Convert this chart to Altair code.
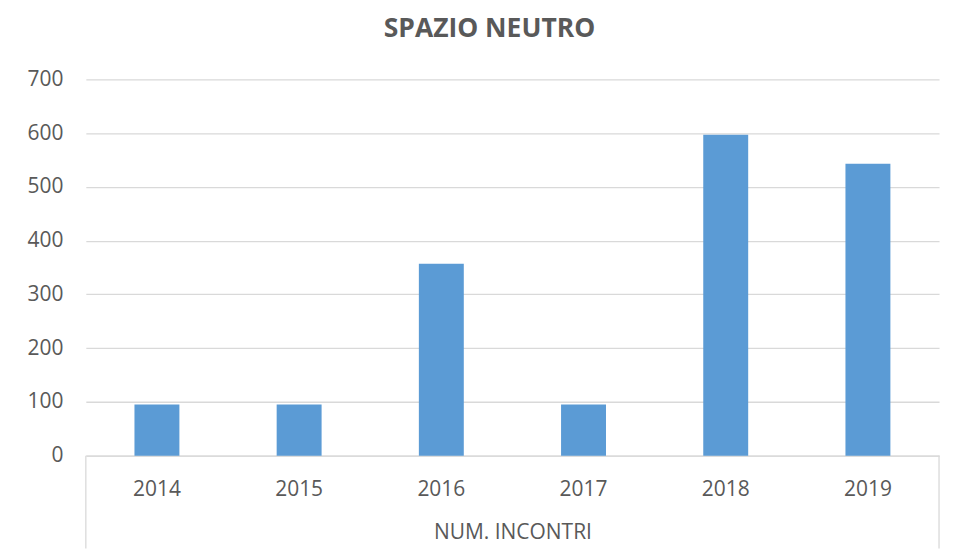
import altair as alt
import pandas as pd

years = ["2014", "2015", "2016", "2017", "2018", "2019"]
incontri = [95, 95, 357, 95, 597, 543]
y_ticks = [0, 100, 200, 300, 400, 500, 600, 700]

df = pd.DataFrame({"anno": years, "valore": incontri})

W, H = 855, 377
GRAY = "#d9d9d9"
TXT = "#595959"
FONT = "Open Sans"

bars = alt.Chart(df).mark_bar(color="#5b9bd5").encode(
    x=alt.X(
        "anno:N",
        sort=years,
        scale=alt.Scale(paddingInner=0.684, paddingOuter=0.342),
        axis=alt.Axis(
            title="NUM. INCONTRI",
            labelAngle=0,
            ticks=False,
            domain=True,
            domainColor=GRAY,
            domainWidth=1.3,
            labelPadding=23,
            labelFontSize=21,
            labelColor=TXT,
            labelFont=FONT,
            titleFont=FONT,
            titleFontSize=21,
            titleFontWeight="normal",
            titleColor=TXT,
            titlePadding=22,
        ),
    ),
    y=alt.Y(
        "valore:Q",
        scale=alt.Scale(domain=[0, 700], nice=False),
        axis=alt.Axis(
            title=None,
            values=y_ticks,
            grid=True,
            gridColor=GRAY,
            gridWidth=1.3,
            domain=False,
            ticks=False,
            labelPadding=23,
            labelFontSize=21,
            labelColor=TXT,
            labelFont=FONT,
        ),
    ),
)

border = alt.Chart(alt.Data(values=[{"p": 0}, {"p": 1}])).mark_rule(
    color=GRAY, strokeWidth=1.3
).encode(
    x=alt.X("p:Q", scale=alt.Scale(domain=[0, 1], nice=False, zero=False), axis=None),
    y=alt.value(H),
    y2=alt.value(H + 93),
)

chart = alt.layer(border, bars).resolve_scale(x="independent").properties(
    width=W,
    height=H,
    title=alt.TitleParams(
        "SPAZIO NEUTRO",
        font=FONT,
        fontSize=26.5,
        fontWeight="bold",
        color=TXT,
        anchor="middle",
        dx=-23,
        offset=26,
    ),
    autosize=alt.AutoSizeParams(type="none"),
    padding={"left": 78, "top": 71, "right": 10, "bottom": 100},
).configure_view(stroke=None)

chart.save("out.html", embed_options={"renderer": "svg", "actions": False})
